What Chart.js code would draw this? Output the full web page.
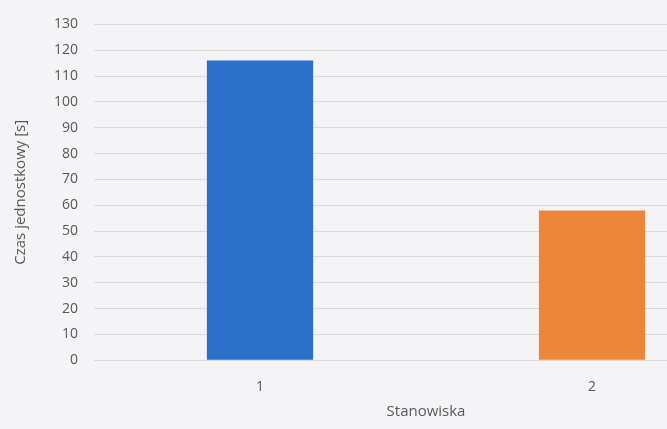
<!DOCTYPE html>
<html>
<head>
<meta charset="utf-8">
<script src="https://cdn.jsdelivr.net/npm/chart.js@4/dist/chart.umd.min.js"></script>
<style>
  html, body { margin: 0; padding: 0; background: #f4f4f6; overflow: hidden; }
  #wrap { width: 667px; height: 429px; overflow: hidden; position: relative; }
  canvas { position: absolute; left: 0; top: 0; }
</style>
</head>
<body>
<div id="wrap"><canvas id="chart" width="758" height="429"></canvas></div>
<script>
// dane
const stanowiska = ["1", "2"];
const czasy = [116, 58];
const kolory = ["#2a6fc9", "#ed8638"];

document.addEventListener('DOMContentLoaded', () => {
    const ctx = document.getElementById('chart').getContext('2d');
    new Chart(ctx, {
        type: 'bar',
        data: {
            labels: stanowiska,
            datasets: [{
                data: czasy,
                backgroundColor: kolory,
                borderWidth: 0,
                categoryPercentage: 1,
                barPercentage: 0.32
            }]
        },
        options: {
            responsive: false,
            animation: false,
            layout: { padding: { top: 14, left: 8, right: 0, bottom: 4 } },
            plugins: { legend: { display: false }, tooltip: { enabled: false } },
            scales: {
                x: {
                    grid: { display: false },
                    border: { display: false },
                    ticks: { color: '#595959', font: { family: 'Open Sans', size: 14 }, padding: 10 },
                    title: { display: true, text: 'Stanowiska', color: '#595959', font: { family: 'Open Sans', size: 15 }, padding: { top: -2 } }
                },
                y: {
                    min: 0,
                    max: 130,
                    ticks: { stepSize: 10, color: '#595959', font: { family: 'Open Sans', size: 14 }, padding: 16 },
                    grid: { color: '#d9d9d9', drawTicks: false },
                    border: { display: false },
                    title: { display: true, text: 'Czas jednostkowy [s]', color: '#595959', font: { family: 'Open Sans', size: 15 }, padding: { bottom: 8 } }
                }
            }
        }
    });
});
</script>
</body>
</html>
